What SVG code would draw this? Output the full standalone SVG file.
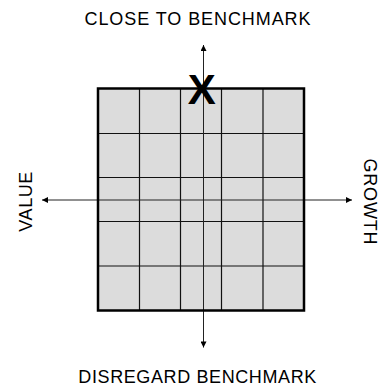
<svg xmlns="http://www.w3.org/2000/svg" width="380" height="386" viewBox="0 0 380 386">
<style>
.lbl{font-family:"Liberation Sans",Arial,sans-serif;font-size:18px;fill:#000}
.grid{stroke:#111;stroke-width:1.2;fill:none}
.axis{stroke:#222;stroke-width:1;fill:none}
</style>
<defs>
<marker id="ah" viewBox="0 0 10 10" refX="10" refY="5" markerWidth="7" markerHeight="6" markerUnits="userSpaceOnUse" orient="auto">
<path d="M0,0 L10,5 L0,10 z" fill="#000"/>
</marker>
</defs>
<g id="board">
<rect x="98" y="88.5" width="206" height="222" fill="#dcdcdc" stroke="none"/>
<g class="grid">
<line x1="139.5" y1="88.5" x2="139.5" y2="310.5"/>
<line x1="180.5" y1="88.5" x2="180.5" y2="310.5"/>
<line x1="221.5" y1="88.5" x2="221.5" y2="310.5"/>
<line x1="263" y1="88.5" x2="263" y2="310.5"/>
<line x1="98" y1="133.5" x2="304" y2="133.5"/>
<line x1="98" y1="177.5" x2="304" y2="177.5"/>
<line x1="98" y1="221.5" x2="304" y2="221.5"/>
<line x1="98" y1="266" x2="304" y2="266"/>
</g>
</g>
<g id="connectors">
<line class="axis" x1="203.5" y1="200" x2="203.5" y2="45" marker-end="url(#ah)"/>
<line class="axis" x1="203.5" y1="200" x2="203.5" y2="347.5" marker-end="url(#ah)"/>
<line class="axis" x1="203.5" y1="200" x2="42" y2="200" marker-end="url(#ah)"/>
<line class="axis" x1="203.5" y1="200" x2="352" y2="200" marker-end="url(#ah)"/>
</g>
<rect x="98" y="88.5" width="206" height="222" fill="none" stroke="#000" stroke-width="2.5"/>
<g id="marker-x">
<text x="201.7" y="103.5" text-anchor="middle" font-family="Liberation Sans,Arial,sans-serif" font-weight="bold" font-size="42">X</text>
</g>
<g id="label-top"><text class="lbl" x="197.5" y="25" text-anchor="middle" textLength="226">CLOSE TO BENCHMARK</text></g>
<g id="label-bottom"><text class="lbl" x="197.3" y="382.5" text-anchor="middle" textLength="238">DISREGARD BENCHMARK</text></g>
<g id="label-left"><text class="lbl" transform="translate(31.5,201.7) rotate(-90)" text-anchor="middle" textLength="60">VALUE</text></g>
<g id="label-right"><text class="lbl" transform="translate(363.5,201.5) rotate(90)" text-anchor="middle" textLength="86">GROWTH</text></g>
</svg>
